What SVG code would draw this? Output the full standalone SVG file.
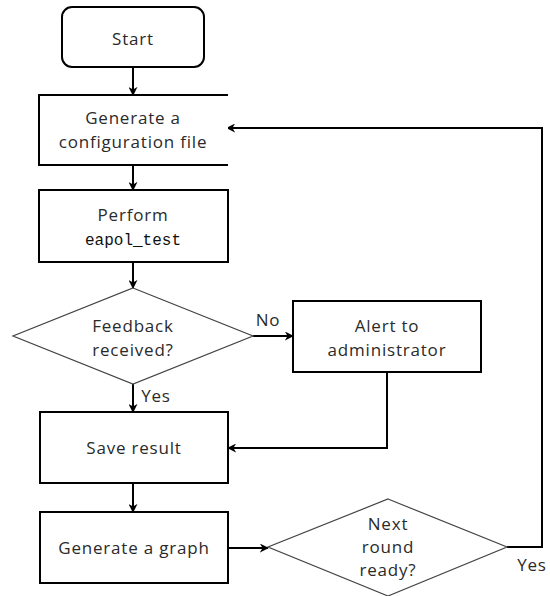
<svg xmlns="http://www.w3.org/2000/svg" width="550" height="596" viewBox="0 0 550 596">
<defs>
<marker id="arr" viewBox="0 0 10 10" refX="9" refY="5" markerWidth="9" markerHeight="9" orient="auto" markerUnits="userSpaceOnUse">
<path d="M0,0 L10,5 L0,10 L3,5 z" fill="#000"/>
</marker>
<style>
.box{fill:#fff;stroke:#000;stroke-width:2}
.dia{fill:#fff;stroke:#444;stroke-width:1.2}
.t{font-family:"Open Sans","Liberation Sans",sans-serif;font-size:17px;fill:#2a2a2a;text-anchor:middle;letter-spacing:0.8px}
.m{font-family:"Liberation Mono","DejaVu Sans Mono",monospace;font-size:16px;fill:#111;text-anchor:middle}
.c{fill:none;stroke:#000;stroke-width:2}
</style>
</defs>
<rect width="550" height="596" fill="#fff"/>
<g id="connectors">
<line class="c" x1="133" y1="67" x2="133" y2="95" marker-end="url(#arr)"/>
<line class="c" x1="133" y1="165" x2="133" y2="190" marker-end="url(#arr)"/>
<line class="c" x1="133" y1="262" x2="133" y2="288" marker-end="url(#arr)"/>
<line class="c" x1="253" y1="336" x2="293" y2="336" marker-end="url(#arr)"/>
<line class="c" x1="133" y1="384" x2="133" y2="412" marker-end="url(#arr)"/>
<polyline class="c" points="387,372 387,448 228,448" marker-end="url(#arr)"/>
<line class="c" x1="133" y1="483" x2="133" y2="512" marker-end="url(#arr)"/>
<line class="c" x1="228" y1="548" x2="268" y2="548" marker-end="url(#arr)"/>
<polyline class="c" points="507,547 542,547 542,128 227,128" marker-end="url(#arr)"/>
<text class="t" x="268" y="326">No</text>
<text class="t" x="156" y="402">Yes</text>
<text class="t" x="532" y="571">Yes</text>
</g>
<g id="start">
<rect class="box" x="62" y="7" width="142" height="60" rx="10"/>
<text class="t" x="133" y="45">Start</text>
</g>
<g id="config">
<path class="box" d="M228,95 L39,95 L39,165 L228,165"/>
<text class="t" x="133" y="124">Generate a</text>
<text class="t" x="133" y="148">configuration file</text>
</g>
<g id="perform">
<rect class="box" x="39" y="190" width="189" height="72"/>
<text class="t" x="133" y="221">Perform</text>
<text class="m" x="133" y="245">eapol_test</text>
</g>
<g id="feedback">
<polygon class="dia" points="133,288 253,336 133,384 13,336"/>
<text class="t" x="133" y="332">Feedback</text>
<text class="t" x="133" y="356">received?</text>
</g>
<g id="alert">
<rect class="box" x="293" y="301" width="188" height="71"/>
<text class="t" x="387" y="332">Alert to</text>
<text class="t" x="387" y="356">administrator</text>
</g>
<g id="save">
<rect class="box" x="40" y="412" width="188" height="71"/>
<text class="t" x="134" y="454">Save result</text>
</g>
<g id="graph">
<rect class="box" x="40" y="512" width="188" height="71"/>
<text class="t" x="134" y="554">Generate a graph</text>
</g>
<g id="next">
<polygon class="dia" points="388,499 507,547 388,596 268,547"/>
<text class="t" x="388" y="530">Next</text>
<text class="t" x="388" y="553">round</text>
<text class="t" x="388" y="576">ready?</text>
</g>
</svg>
